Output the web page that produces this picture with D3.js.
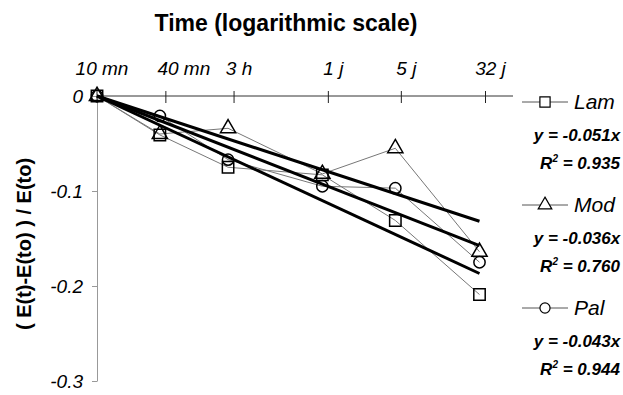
<!DOCTYPE html>
<html>
<head>
<meta charset="utf-8">
<script src="https://cdn.jsdelivr.net/npm/d3@7"></script>
<style>
	body { margin: 0; background: #fff; }
	text { font-family: 'Liberation Sans', Arial, sans-serif; }
</style>
</head>
<body>
<div id="draw"></div>
<script>
// times in minutes since start
var times = [10, 40, 180, 1440, 7200, 46080];
var tickLabels = ['10 mn', '40 mn', '3 h', '1 j', '5 j', '32 j'];
var seriesNames = ['Lam', 'Mod', 'Pal'];
var lam = [0, -0.041, -0.075, -0.083, -0.131, -0.209];
var mod = [0, -0.040, -0.034, -0.082, -0.055, -0.164];
var pal = [0, -0.021, -0.067, -0.095, -0.097, -0.175];
var slopes = [-0.051, -0.036, -0.043];
var r2 = ['0.935', '0.760', '0.944'];
var yTicks = [0, -0.1, -0.2, -0.3];

var width = 623,
	height = 395;

var svg = d3
	.select('#draw')
	.append('svg')
	.attr('width', width)
	.attr('height', height);

var x = d3.scaleLog().domain([10, 46080]).range([97, 479.5]);
var y = d3.scaleLinear().domain([0, -0.3]).range([96, 381]);

// titles
svg
	.append('text')
	.attr('x', 286)
	.attr('y', 31)
	.attr('text-anchor', 'middle')
	.style('font-weight', 'bold')
	.style('font-size', '23px')
	.text('Time (logarithmic scale)');

svg
	.append('text')
	.attr('transform', 'translate(31,244) rotate(-90)')
	.attr('text-anchor', 'middle')
	.style('font-weight', 'bold')
	.style('font-size', '20px')
	.text('( E(t)-E(to) ) / E(to)');

// y axis
var yAxis = svg
	.append('g')
	.attr('transform', 'translate(97,0)')
	.call(
		d3
			.axisLeft(y)
			.tickValues(yTicks)
			.tickSize(5)
			.tickSizeOuter(0)
			.tickPadding(9)
			.tickFormat(function (d) {
				return d === 0 ? '0' : String(d);
			})
	);
yAxis.selectAll('path, line').attr('stroke', '#999');
yAxis
	.selectAll('text')
	.style('font-size', '19px')
	.style('font-style', 'italic')
	.attr('fill', '#000')
	.attr('dy', '0.36em');

// x axis (at top)
svg
	.append('line')
	.attr('x1', x(10))
	.attr('x2', 513)
	.attr('y1', y(0))
	.attr('y2', y(0))
	.attr('stroke', '#333');

var xt = svg
	.selectAll('.xt')
	.data(times)
	.enter()
	.append('g')
	.attr('class', 'xt')
	.attr('transform', function (d, i) {
		return 'translate(' + (x(d) + (i ? 6 : 0)) + ',' + y(0) + ')';
	});
xt.append('line').attr('y1', -5).attr('y2', 7).attr('stroke', '#222');
xt
	.append('text')
	.attr('y', -21)
	.attr('x', function (d, i) {
		return i === 1 ? 18 : 5;
	})
	.attr('text-anchor', 'middle')
	.style('font-size', '19px')
	.style('font-style', 'italic')
	.text(function (d, i) {
		return tickLabels[i];
	});

var series = [lam, mod, pal];

// data lines
var line = d3
	.line()
	.x(function (d, i) {
		return x(times[i]);
	})
	.y(function (d) {
		return y(d);
	});

svg
	.selectAll('.sline')
	.data(series)
	.enter()
	.append('path')
	.attr('class', 'sline')
	.attr('d', line)
	.attr('fill', 'none')
	.attr('stroke', '#777')
	.attr('stroke-width', 1);

// regression lines through the origin, y = a * log10(t / 10 mn)
svg
	.selectAll('.reg')
	.data(slopes)
	.enter()
	.append('line')
	.attr('class', 'reg')
	.attr('x1', x(10))
	.attr('y1', y(0))
	.attr('x2', x(46080))
	.attr('y2', function (a) {
		return y(a * Math.log10(46080 / 10));
	})
	.attr('stroke', '#000')
	.attr('stroke-width', 3);

// markers
var symbols = [d3.symbolSquare, d3.symbolTriangle, d3.symbolCircle];
var sizes = [130, 100, 100];

series.forEach(function (s, k) {
	svg
		.selectAll('.m' + k)
		.data(s)
		.enter()
		.append('path')
		.attr('class', 'm' + k)
		.attr('d', d3.symbol().type(symbols[k]).size(sizes[k]))
		.attr('transform', function (d, i) {
			return 'translate(' + x(times[i]) + ',' + y(d) + ')';
		})
		.attr('fill', 'none')
		.attr('stroke', '#000')
		.attr('stroke-width', 1.5);
});

// legend
var legend = svg
	.selectAll('.leg')
	.data(seriesNames)
	.enter()
	.append('g')
	.attr('class', 'leg')
	.attr('transform', function (d, i) {
		return 'translate(0,' + (102 + i * 103) + ')';
	});

legend
	.append('line')
	.attr('x1', 522)
	.attr('x2', 568)
	.attr('stroke', '#555');
legend
	.append('path')
	.attr('d', function (d, i) {
		return d3.symbol().type(symbols[i]).size(sizes[i] * 0.8)();
	})
	.attr('transform', 'translate(545,0)')
	.attr('fill', '#fff')
	.attr('stroke', '#000')
	.attr('stroke-width', 1.2);
legend
	.append('text')
	.attr('x', 574)
	.attr('y', 7)
	.style('font-size', '21px')
	.style('font-style', 'italic')
	.text(function (d) {
		return d;
	});
legend
	.append('text')
	.attr('x', 577)
	.attr('y', 39)
	.attr('text-anchor', 'middle')
	.style('font-size', '17px')
	.style('font-weight', 'bold')
	.style('font-style', 'italic')
	.text(function (d, i) {
		return 'y = ' + slopes[i].toFixed(3) + 'x';
	});
var rt = legend
	.append('text')
	.attr('x', 580)
	.attr('y', 67)
	.attr('text-anchor', 'middle')
	.style('font-size', '17px')
	.style('font-weight', 'bold')
	.style('font-style', 'italic');
rt.append('tspan').text('R');
rt
	.append('tspan')
	.attr('dy', -7)
	.style('font-size', '10px')
	.text('2');
rt
	.append('tspan')
	.attr('dy', 7)
	.text(function (d, i) {
		return ' = ' + r2[i];
	});
</script>
</body>
</html>
